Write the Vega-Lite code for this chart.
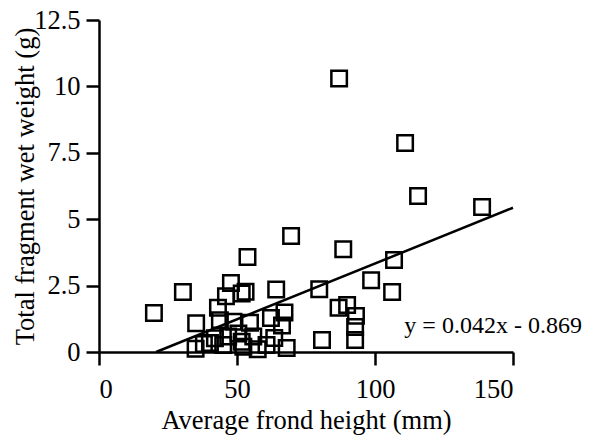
{
  "$schema": "https://vega.github.io/schema/vega-lite/v6.json",
  "width": 414,
  "height": 332,
  "autosize": {"type": "none"},
  "padding": {"left": 99, "top": 20, "right": 93, "bottom": 87},
  "background": "white",
  "config": {
    "view": {"stroke": null},
    "font": "Liberation Serif",
    "axis": {
      "domainColor": "black", "domainWidth": 2.5, "tickColor": "black", "tickWidth": 2.5, "tickSize": 13,
      "labelFont": "Liberation Serif", "labelFontSize": 26.5, "labelColor": "black",
      "titleFont": "Liberation Serif", "titleFontSize": 26.5, "titleColor": "black", "titleFontWeight": "normal",
      "grid": false
    }
  },
  "datasets": {
    "pts": [
      {"x": 87, "y": 10.3}, {"x": 110.9, "y": 7.87}, {"x": 115.6, "y": 5.87}, {"x": 138.8, "y": 5.46},
      {"x": 69.6, "y": 4.37}, {"x": 53.8, "y": 3.58}, {"x": 88.5, "y": 3.87}, {"x": 106.9, "y": 3.46},
      {"x": 98.6, "y": 2.7}, {"x": 106.2, "y": 2.26}, {"x": 19.9, "y": 1.47}, {"x": 30.4, "y": 2.26},
      {"x": 47.8, "y": 2.6}, {"x": 64.2, "y": 2.35}, {"x": 53.1, "y": 2.27}, {"x": 79.8, "y": 2.36},
      {"x": 46, "y": 2.1}, {"x": 51.7, "y": 2.2}, {"x": 86.8, "y": 1.67}, {"x": 89.9, "y": 1.77},
      {"x": 93.1, "y": 1.36}, {"x": 92.8, "y": 0.94}, {"x": 92.8, "y": 0.45}, {"x": 80.8, "y": 0.45},
      {"x": 35.2, "y": 1.08}, {"x": 35, "y": 0.12}, {"x": 43.1, "y": 1.67}, {"x": 43.8, "y": 1.2},
      {"x": 40.2, "y": 0.34}, {"x": 67.2, "y": 1.49}, {"x": 54.7, "y": 1.1}, {"x": 48.7, "y": 1.14},
      {"x": 68, "y": 0.15}, {"x": 60.7, "y": 0.26}, {"x": 63.5, "y": 0.53}, {"x": 66.3, "y": 1.0},
      {"x": 42, "y": 0.52}, {"x": 46.8, "y": 0.58}, {"x": 50.5, "y": 0.7}, {"x": 45, "y": 0.26},
      {"x": 51.7, "y": 0.39}, {"x": 55.9, "y": 0.58}, {"x": 52.3, "y": 0.2}, {"x": 57.5, "y": 0.1},
      {"x": 62.3, "y": 1.28}, {"x": 38, "y": 0.3}
    ],
    "fit": [{"x": 20.69, "y": 0}, {"x": 150, "y": 5.431}],
    "eq": [{"x": 142.8, "y": 0.98, "label": "y = 0.042x - 0.869"}]
  },
  "layer": [
    {
      "data": {"name": "fit"},
      "mark": {"type": "line", "color": "black", "strokeWidth": 2.5, "clip": false},
      "encoding": {
        "x": {"field": "x", "type": "quantitative", "scale": {"domain": [0, 150], "nice": false},
          "axis": {"values": [0, 50, 100, 150], "title": "Average frond height (mm)", "labelPadding": 11, "titlePadding": 5}},
        "y": {"field": "y", "type": "quantitative", "scale": {"domain": [0, 12.5], "nice": false},
          "axis": {"values": [0, 2.5, 5, 7.5, 10, 12.5], "labelExpr": "'' + datum.value", "title": "Total fragment wet weight (g)", "labelPadding": 6, "titlePadding": -6}}
      }
    },
    {
      "data": {"name": "pts"},
      "mark": {"type": "point", "shape": "square", "filled": false, "color": "black", "strokeWidth": 2.5, "size": 240, "opacity": 1, "clip": false},
      "encoding": {
        "x": {"field": "x", "type": "quantitative"},
        "y": {"field": "y", "type": "quantitative"}
      }
    },
    {
      "data": {"name": "eq"},
      "mark": {"type": "text", "font": "Liberation Serif", "fontSize": 24, "color": "black", "align": "center", "baseline": "middle"},
      "encoding": {
        "x": {"field": "x", "type": "quantitative"},
        "y": {"field": "y", "type": "quantitative"},
        "text": {"field": "label"}
      }
    }
  ]
}
